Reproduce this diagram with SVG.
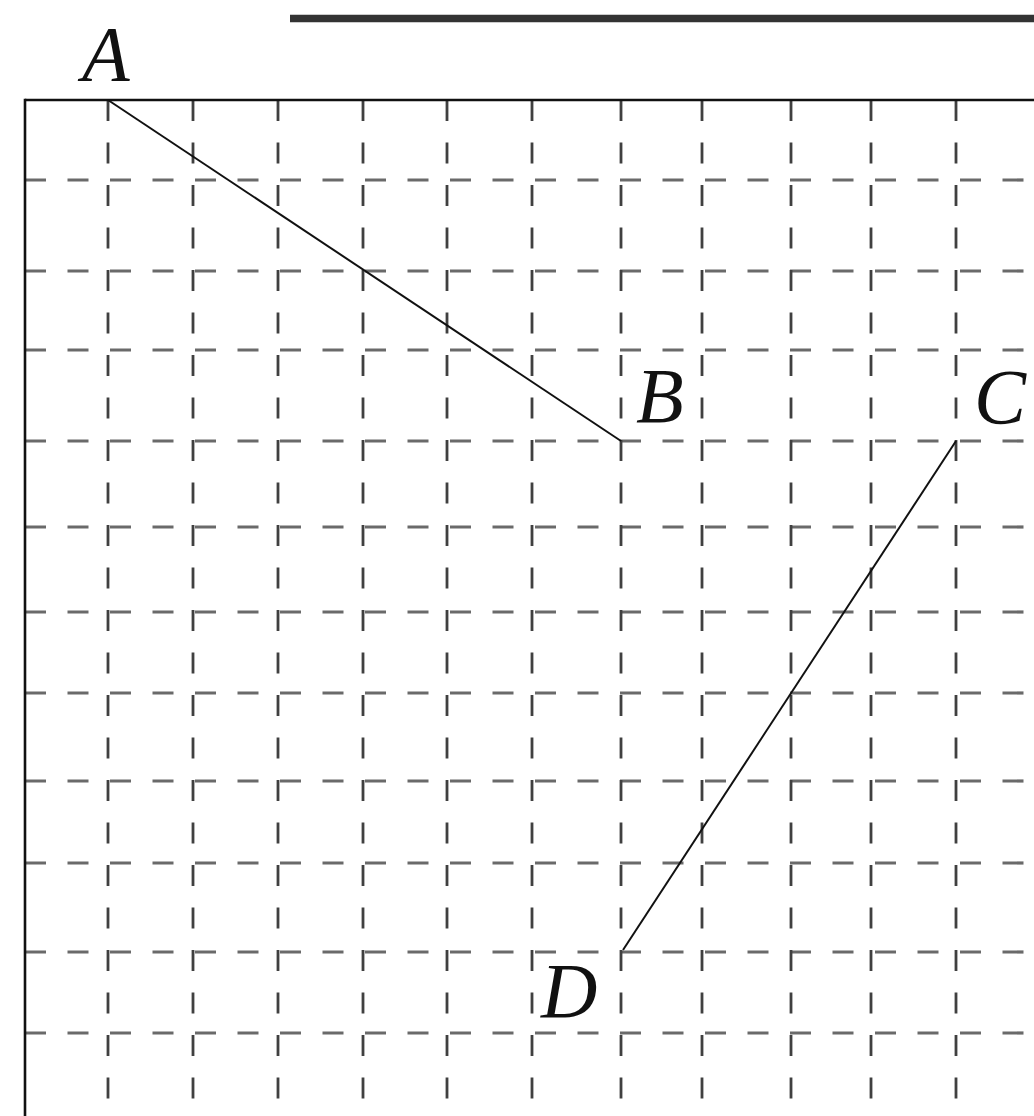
<svg xmlns="http://www.w3.org/2000/svg" width="1034" height="1116" viewBox="0 0 1034 1116">
<style>
.h{stroke:#6a6a6a;stroke-width:3.2;stroke-dasharray:21 21.5;fill:none}
.v{stroke:#404040;stroke-width:2.8;stroke-dasharray:21 21.5;fill:none}
.b{stroke:#111;stroke-width:2.6;fill:none}
.seg{stroke:#111;stroke-width:2;fill:none}
.lbl{font-family:"Liberation Serif","Times New Roman",serif;font-style:italic;font-size:78px;fill:#111}
</style>
<rect width="1034" height="1116" fill="#fff"/>
<line x1="290" y1="18.5" x2="1034" y2="18.5" stroke="#333" stroke-width="7.5"/>
<g id="grid">
<line class="h" x1="25" y1="180" x2="1034" y2="180"/>
<line class="h" x1="25" y1="271" x2="1034" y2="271"/>
<line class="h" x1="25" y1="350" x2="1034" y2="350"/>
<line class="h" x1="25" y1="441" x2="1034" y2="441"/>
<line class="h" x1="25" y1="527" x2="1034" y2="527"/>
<line class="h" x1="25" y1="612" x2="1034" y2="612"/>
<line class="h" x1="25" y1="693" x2="1034" y2="693"/>
<line class="h" x1="25" y1="781" x2="1034" y2="781"/>
<line class="h" x1="25" y1="863" x2="1034" y2="863"/>
<line class="h" x1="25" y1="952" x2="1034" y2="952"/>
<line class="h" x1="25" y1="1033" x2="1034" y2="1033"/>
<line class="v" x1="108" y1="100" x2="108" y2="1116"/>
<line class="v" x1="193" y1="100" x2="193" y2="1116"/>
<line class="v" x1="278" y1="100" x2="278" y2="1116"/>
<line class="v" x1="363" y1="100" x2="363" y2="1116"/>
<line class="v" x1="447" y1="100" x2="447" y2="1116"/>
<line class="v" x1="532" y1="100" x2="532" y2="1116"/>
<line class="v" x1="621" y1="100" x2="621" y2="1116"/>
<line class="v" x1="702" y1="100" x2="702" y2="1116"/>
<line class="v" x1="791" y1="100" x2="791" y2="1116"/>
<line class="v" x1="871" y1="100" x2="871" y2="1116"/>
<line class="v" x1="956" y1="100" x2="956" y2="1116"/>
</g>
<g id="border">
<line class="b" x1="25" y1="100" x2="1034" y2="100"/>
<line class="b" x1="25" y1="98.7" x2="25" y2="1116"/>
</g>
<g id="connectors">
<line class="seg" x1="108" y1="100" x2="621" y2="441"/>
<line class="seg" x1="956" y1="441" x2="623" y2="950"/>
</g>
<g id="A"><text class="lbl" x="82" y="80">A</text></g>
<g id="B"><text class="lbl" x="636" y="422">B</text></g>
<g id="C"><text class="lbl" x="974" y="423">C</text></g>
<g id="D"><text class="lbl" x="541" y="1017">D</text></g>
</svg>
